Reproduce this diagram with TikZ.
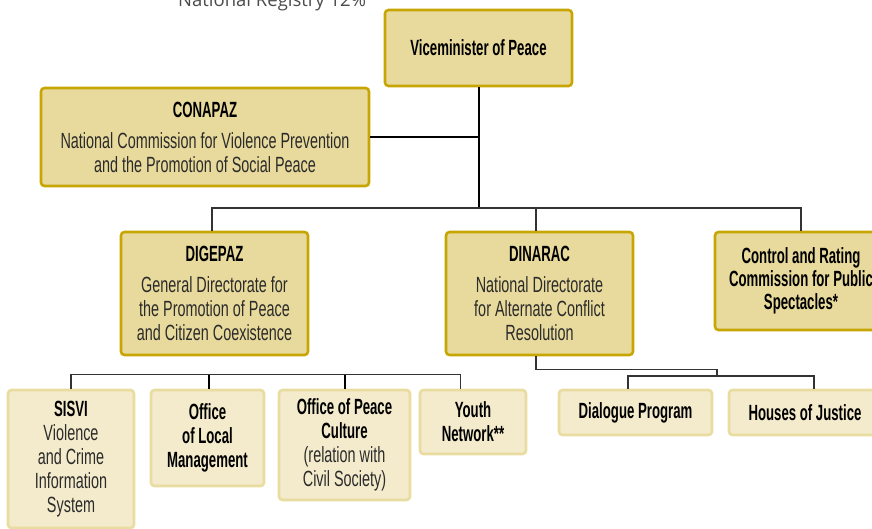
\documentclass[tikz,border=0pt]{standalone}
\usepackage{xcolor}
\usepackage{tikz}
\usetikzlibrary{positioning, shapes, arrows.meta}
\usepackage{fontspec}
\newfontfamily\condfont{Liberation Sans}[FakeStretch=0.655]
\newfontfamily\condbold{Liberation Sans Bold}[FakeStretch=0.6]
\newfontfamily\ghostfont{Open Sans}
\definecolor{boxfill}{HTML}{E8DA9C}
\definecolor{boxrim}{HTML}{C7A503}
\definecolor{paleboxfill}{HTML}{F3EBCB}
\definecolor{paleboxrim}{HTML}{E9DCA0}
\definecolor{bodytext}{HTML}{2B2B2B}

\begin{document}
\begin{tikzpicture}[
    x=1pt, y=-1pt,
    unit/.style={rectangle, rounded corners=3.5pt, draw=boxrim, line width=2.6pt, fill=boxfill,
        align=center, inner sep=0pt, text=bodytext, font=\condfont\fontsize{22}{24}\selectfont},
    subunit/.style={unit, draw=paleboxrim, fill=paleboxfill},
    boldunit/.style={font=\condbold\fontsize{22}{24}\selectfont, text=black},
    mainline/.style={line width=2pt, black},
    busline/.style={line width=1.3pt, black!80},
    dropline/.style={line width=2pt, black}
]
\useasboundingbox (0,0) rectangle (872,528);
\clip (0,0) rectangle (872,528);

% Leftover caption from the page above
\node[anchor=base west, inner sep=0pt, text=black!70, font=\ghostfont\fontsize{18.5}{20}\selectfont] (registry) at (178,6) {National Registry 12\%};

% Top level
\node[unit, minimum width=187, minimum height=76] (vice) at (478.5,48) {{\condbold\color{black} Viceminister of Peace}};
\node[unit, minimum width=328, minimum height=98] (conapaz) at (205,137) {{\condbold\color{black} CONAPAZ}\\[7pt] National Commission for Violence Prevention\\ and the Promotion of Social Peace};

% Directorates
\node[unit, minimum width=187, minimum height=123] (digepaz) at (214.5,293.5) {{\condbold\color{black} DIGEPAZ}\\[7pt] General Directorate for\\ the Promotion of Peace\\ and Citizen Coexistence};
\node[unit, minimum width=187, minimum height=123] (dinarac) at (539.5,293.5) {{\condbold\color{black} DINARAC}\\[7pt] National Directorate\\ for Alternate Conflict\\ Resolution};
\node[unit, boldunit, minimum width=172, minimum height=98, font=\condbold\fontsize{22}{23}\selectfont] (control) at (801,281) {Control and Rating\\ Commission for Public\\ Spectacles*};

% Offices under DIGEPAZ
\node[subunit, minimum width=126, minimum height=138] (sisvi) at (71,459) {{\condbold\color{black} SISVI}\\ Violence\\ and Crime\\ Information\\ System};
\node[subunit, boldunit, minimum width=113, minimum height=96] (local) at (207.5,438) {Office\\ of Local\\ Management};
\node[subunit, minimum width=131, minimum height=110] (culture) at (344.5,445) {{\condbold\color{black} Office of Peace}\\ {\condbold\color{black} Culture}\\ (relation with\\ Civil Society)};
\node[subunit, boldunit, minimum width=106, minimum height=64] (youth) at (473,422) {Youth\\ Network**};

% Programs under DINARAC
\node[subunit, boldunit, minimum width=153, minimum height=45] (dialogue) at (635.5,412.5) {Dialogue Program};
\node[subunit, boldunit, minimum width=152, minimum height=45] (houses) at (805,412.5) {Houses of Justice};

% Connectors
\coordinate (bus) at (478.5,208);
\coordinate (dinjoint) at (717,376);
\draw[mainline] (vice.south) -- (bus);
\draw[mainline] (conapaz.east) -- (conapaz.east -| vice.south);
\draw[busline] ([xshift=-2.5pt]digepaz.north) |- (bus) -| (control.north);
\draw[busline] ([xshift=-3.5pt]dinarac.north) -- ([xshift=-3.5pt]dinarac.north |- bus);
\draw[busline] (sisvi.north) -- ++(0,-14) -| ([xshift=-12.5pt]youth.north);
\draw[dropline] ([xshift=1.5pt]local.north) -- ++(0,-14);
\draw[dropline] (culture.north) -- ++(0,-14);
\draw[busline] ([xshift=-3.5pt]dinarac.south) -- ++(0,13) -| (dinjoint);
\draw[busline] ([xshift=-7.5pt]dialogue.north) |- (dinjoint) -| ([xshift=9pt]houses.north);

\end{tikzpicture}
\end{document}
